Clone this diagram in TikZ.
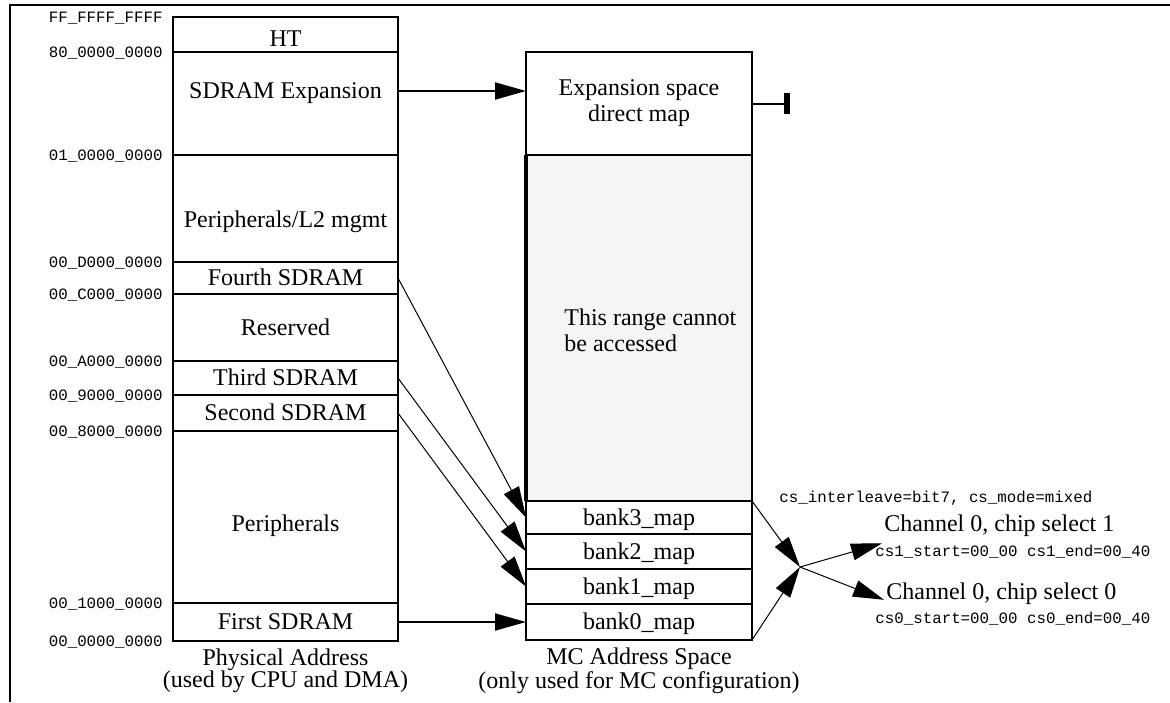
\documentclass[tikz,border=0pt]{standalone}
\usepackage{fontspec}
\setmainfont{Liberation Serif}
\setmonofont{Liberation Mono}
\usetikzlibrary{positioning,arrows.meta}
\definecolor{noaccessgray}{HTML}{F5F5F5}
\newcommand{\lowered}[2]{\raisebox{-#1}{#2}}

\begin{document}
\begin{tikzpicture}[x=0.5pt,y=-0.5pt,
  cell/.style={draw, line width=1pt, minimum width=112.5pt, inner sep=0pt, outer sep=0pt, font=\fontsize{12}{13}\selectfont},
  row/.style={cell, text height=7.9pt, text depth=0pt},
  addr/.style={font=\ttfamily\fontsize{7.9}{9}\selectfont, inner sep=0pt, text height=5pt, text depth=0pt},
  note/.style={addr, anchor=west},
  chan/.style={anchor=west, inner sep=1pt, font=\fontsize{12}{13}\selectfont},
  caption/.style={align=center, inner sep=0pt, font=\fontsize{12}{11}\selectfont},
  maptip/.style={-{Triangle[length=15.5pt,width=8.5pt]}},
  fatline/.style={line width=1pt},
  thinline/.style={line width=0.5pt}]
			\useasboundingbox (0,0) rectangle (1170,702);
			\draw[line width=1.4pt] (10,702) -- (10,5) -- (1170,5);
			% Nodes for the physical address column
			\node[row, minimum height=17.5pt, anchor=north] (ht) at (285.5,17) {\lowered{2.25pt}{HT}};
			\node[row, minimum height=51.5pt, below=0pt of ht] (sdexp) {\lowered{-6.5pt}{SDRAM Expansion}};
			\node[row, minimum height=53.5pt, below=0pt of sdexp] (perl2) {\lowered{5.75pt}{Peripherals/L2 mgmt}};
			\node[row, minimum height=16pt, below=0pt of perl2] (fourth) {Fourth SDRAM};
			\node[row, minimum height=33.5pt, below=0pt of fourth] (resv) {Reserved};
			\node[row, minimum height=17pt, below=0pt of resv] (third) {Third SDRAM};
			\node[row, minimum height=18pt, below=0pt of third] (second) {Second SDRAM};
			\node[row, minimum height=86pt, below=0pt of second] (periph) {\lowered{3.5pt}{Peripherals}};
			\node[row, minimum height=19pt, below=0pt of periph] (first) {First SDRAM};
			\node[caption, below=3.5pt of first] (physcap) {Physical Address\\(used by CPU and DMA)};
			% Address labels
			\node[addr, left=5pt of ht.north west] (aFF) {FF\_FFFF\_FFFF};
			\node[addr, left=5pt of sdexp.north west] (a80) {80\_0000\_0000};
			\node[addr, left=5pt of perl2.north west] (a01) {01\_0000\_0000};
			\node[addr, left=5pt of fourth.north west] (aD) {00\_D000\_0000};
			\node[addr, left=5pt of resv.north west] (aC) {00\_C000\_0000};
			\node[addr, left=5pt of third.north west] (aA) {00\_A000\_0000};
			\node[addr, left=5pt of second.north west] (a9) {00\_9000\_0000};
			\node[addr, left=5pt of periph.north west] (a8) {00\_8000\_0000};
			\node[addr, left=5pt of first.north west] (a1) {00\_1000\_0000};
			\node[addr, left=5pt of first.south west] (a0) {00\_0000\_0000};
			% Nodes for the MC address space column
			\node[cell, minimum width=113pt, minimum height=51.5pt, anchor=north, align=center] (expmap) at (639,52) {Expansion space\\direct map};
			\node[cell, minimum width=113pt, fill=noaccessgray, minimum height=173pt, below=0pt of expmap] (noaccess) {};
			\draw[line width=2pt] (noaccess.north west) -- (noaccess.south west);
			\node[align=left, anchor=west, inner sep=0pt, font=\fontsize{12}{13}\selectfont] (nacctxt) at ([xshift=19pt,yshift=-1pt]noaccess.west) {This range cannot\\be accessed};
			\node[row, minimum width=113pt, minimum height=16.5pt, below=0pt of noaccess] (bank3) {bank3\_map};
			\node[row, minimum width=113pt, minimum height=17.5pt, below=0pt of bank3] (bank2) {bank2\_map};
			\node[row, minimum width=113pt, minimum height=17.5pt, below=0pt of bank2] (bank1) {bank1\_map};
			\node[row, minimum width=113pt, minimum height=18pt, below=0pt of bank1] (bank0) {bank0\_map};
			\node[caption, below=3.5pt of bank0] (mccap) {MC Address Space\\(only used for MC configuration)};
			% Chip selects
			\coordinate (expend) at (790,103.5);
			\coordinate (jn) at (800,567);
			\node[note] (ilv) at (779,497) {cs\_interleave=bit7, cs\_mode=mixed};
			\node[chan] (ch1) at (882,526) {Channel 0, chip select 1};
			\node[note] (cs1) at (875,551) {cs1\_start=00\_00 cs1\_end=00\_40};
			\node[chan] (ch0) at (884,594) {Channel 0, chip select 0};
			\node[note] (cs0) at (875,618) {cs0\_start=00\_00 cs0\_end=00\_40};
			% Arrows
			\draw[fatline, maptip] ([yshift=6.25pt]sdexp.east) -- ([yshift=6.25pt]expmap.west);
			\draw[fatline, -{Bar[width=10.5pt,line width=3pt]}] (expmap.east) -- (expend);
			\draw[thinline, maptip] (fourth.east) -- (bank3.west);
			\draw[thinline, maptip] (third.east) -- (bank2.west);
			\draw[thinline, maptip] (second.east) -- (bank1.west);
			\draw[fatline, maptip] (first.east) -- (bank0.west);
			\draw[thinline, maptip] (bank3.north east) -- (jn);
			\draw[thinline, maptip] (bank0.south east) -- (jn);
			\draw[thinline, maptip] (jn) -- ([yshift=-2pt]ch1.south west);
			\draw[thinline, maptip] (jn) -- (ch0.base west);
		\end{tikzpicture}
\end{document}
